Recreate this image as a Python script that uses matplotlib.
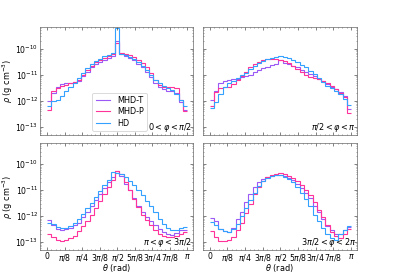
import numpy as np
import matplotlib.pyplot as plt

# log10(rho) per theta bin, 33 bins over [0, pi]
labels = ["MHD-T", "MHD-P", "HD"]
colors = ["#9b59f5", "#ff3399", "#33a1ff"]
panel_text = [r"$0 < \varphi < \pi/2$", r"$\pi/2 < \varphi < \pi$",
              r"$\pi < \varphi < 3\pi/2$", r"$3\pi/2 < \varphi < 2\pi$"]

tl_mhdt = [-12.0, -11.7, -11.45, -11.35, -11.32, -11.3, -11.28, -11.22, -11.05, -10.9, -10.72,
           -10.6, -10.5, -10.42, -10.36, -10.3, -9.7, -10.22, -10.28, -10.35, -10.45, -10.58,
           -10.72, -10.9, -11.1, -11.3, -11.45, -11.55, -11.6, -11.62, -11.7, -12.05, -12.35]
tl_mhdp = [-12.35, -11.62, -11.5, -11.42, -11.38, -11.32, -11.28, -11.2, -11.0, -10.82, -10.65,
           -10.52, -10.42, -10.35, -10.3, -10.22, -9.8, -10.18, -10.2, -10.25, -10.32, -10.42,
           -10.55, -10.7, -10.95, -11.2, -11.4, -11.45, -11.47, -11.48, -11.5, -11.95, -12.4]
tl_hd = [-12.2, -12.0, -11.95, -11.8, -11.62, -11.45, -11.3, -11.12, -10.92, -10.75, -10.6,
         -10.48, -10.38, -10.3, -10.25, -10.18, -9.2, -10.2, -10.25, -10.32, -10.4, -10.52,
         -10.65, -10.8, -11.0, -11.2, -11.32, -11.42, -11.5, -11.58, -11.75, -11.95, -12.2]

tr_mhdt = [-11.95, -11.6, -11.3, -11.22, -11.2, -11.18, -11.15, -11.1, -11.05, -11.0, -10.9,
           -10.82, -10.75, -10.7, -10.64, -10.58, -10.45, -10.55, -10.6, -10.66, -10.72, -10.8,
           -10.9, -10.98, -11.05, -11.15, -11.25, -11.35, -11.45, -11.55, -11.65, -11.8, -12.3]
tr_mhdp = [-12.2, -11.65, -11.5, -11.48, -11.45, -11.35, -11.2, -11.05, -10.9, -10.72, -10.6,
           -10.5, -10.44, -10.4, -10.38, -10.4, -10.45, -10.48, -10.55, -10.65, -10.78, -10.9,
           -11.0, -11.08, -11.12, -11.18, -11.25, -11.33, -11.43, -11.55, -11.7, -11.85, -12.45]
tr_hd = [-12.25, -12.05, -11.75, -11.45, -11.32, -11.22, -11.12, -11.02, -10.92, -10.78, -10.66,
         -10.56, -10.47, -10.4, -10.35, -10.32, -10.28, -10.32, -10.37, -10.44, -10.52, -10.62,
         -10.72, -10.85, -10.98, -11.12, -11.28, -11.42, -11.52, -11.62, -11.72, -11.92, -12.15]

bl_mhdt = [-12.15, -12.35, -12.48, -12.52, -12.5, -12.45, -12.35, -12.25, -12.05, -11.85, -11.62,
           -11.4, -11.15, -10.92, -10.7, -10.48, -10.28, -10.45, -10.75, -11.0, -11.3, -11.6,
           -11.85, -12.05, -12.2, -12.35, -12.48, -12.6, -12.7, -12.72, -12.65, -12.55, -12.55]
bl_mhdp = [-12.7, -12.82, -12.92, -12.95, -12.92, -12.85, -12.75, -12.58, -12.4, -12.2, -11.95,
           -11.68, -11.42, -11.15, -10.88, -10.6, -10.28, -10.4, -10.7, -11.0, -11.35, -11.65,
           -11.95, -12.15, -12.35, -12.55, -12.68, -12.75, -12.82, -12.82, -12.78, -12.7, -12.63]
bl_hd = [-12.25, -12.3, -12.42, -12.46, -12.44, -12.38, -12.25, -12.1, -11.92, -11.7, -11.48,
         -11.25, -11.02, -10.8, -10.6, -10.32, -10.33, -10.38, -10.5, -10.65, -10.82, -11.0,
         -11.2, -11.42, -11.62, -11.85, -12.1, -12.3, -12.45, -12.52, -12.54, -12.45, -12.42]

br_mhdt = [-12.08, -12.18, -12.5, -12.58, -12.63, -12.44, -12.12, -11.86, -11.47, -11.15, -10.9,
           -10.7, -10.58, -10.51, -10.46, -10.43, -10.42, -10.45, -10.52, -10.62, -10.75, -10.92,
           -11.1, -11.3, -11.6, -11.85, -12.1, -12.4, -12.55, -12.7, -12.68, -12.55, -12.42]
br_mhdp = [-12.56, -12.82, -12.95, -12.95, -12.92, -12.82, -12.55, -12.25, -11.9, -11.55, -11.15,
           -10.88, -10.65, -10.5, -10.42, -10.38, -10.36, -10.4, -10.45, -10.55, -10.65, -10.8,
           -10.98, -11.2, -11.45, -11.75, -12.05, -12.35, -12.6, -12.75, -12.85, -12.7, -12.5]
br_hd = [-12.24, -12.35, -12.5, -12.58, -12.6, -12.5, -12.3, -12.0, -11.7, -11.38, -11.1,
         -10.85, -10.65, -10.52, -10.45, -10.42, -10.42, -10.48, -10.58, -10.7, -10.88, -11.1,
         -11.35, -11.62, -11.95, -12.2, -12.45, -12.7, -12.85, -12.92, -12.7, -12.55, -12.4]

panels = [(tl_mhdt, tl_mhdp, tl_hd), (tr_mhdt, tr_mhdp, tr_hd),
          (bl_mhdt, bl_mhdp, bl_hd), (br_mhdt, br_mhdp, br_hd)]

tick_pos = np.arange(9) * np.pi / 8
tick_lab = ["0", r"$\pi/8$", r"$\pi/4$", r"$3\pi/8$", r"$\pi/2$",
            r"$5\pi/8$", r"$3\pi/4$", r"$7\pi/8$", r"$\pi$"]

plt.rcParams["font.size"] = 9.5

fig = plt.figure(figsize=(6.4, 4.484), dpi=62)
boxes = [[0.101, 0.514, 0.385, 0.388], [0.511, 0.514, 0.388, 0.388],
         [0.101, 0.101, 0.385, 0.385], [0.511, 0.101, 0.388, 0.385]]

for k, (box, series) in enumerate(zip(boxes, panels)):
    ax = fig.add_axes(box)
    for vals, lab, c in zip(series, labels, colors):
        vals = np.array(vals)
        edges = np.linspace(0, np.pi, len(vals) + 1)
        ax.stairs(10 ** vals, edges, color=c, lw=1.3, label=lab, baseline=None)
    ax.set_yscale("log")
    ax.set_ylim(5e-14, 6.5e-10)
    ax.set_xlim(-0.05 * np.pi, 1.04 * np.pi)
    ax.set_xticks(tick_pos)
    ax.set_xticks(np.arange(33) * np.pi / 32, minor=True)
    ax.tick_params(which="both", direction="in", top=True, right=True, colors="0.3",
                   labelcolor="black", pad=2, labelsize=9)
    ax.tick_params(which="major", length=3)
    ax.tick_params(which="minor", length=1.5)
    for s in ax.spines.values():
        s.set_color("0.4")
    ax.text(0.995, 0.01, panel_text[k], transform=ax.transAxes, ha="right", va="bottom")
    if k >= 2:
        ax.set_xticklabels(tick_lab)
        ax.set_xlabel(r"$\theta$ (rad)")
        ax.xaxis.set_label_coords(0.5, -0.115)
    else:
        ax.set_xticklabels([])
    if k % 2 == 0:
        ax.set_ylabel(r"$\rho$ (g cm$^{-3}$)")
        ax.yaxis.set_label_coords(-0.165, 0.5)
    else:
        ax.set_yticklabels([])
    if k == 0:
        ax.legend(loc="lower center", bbox_to_anchor=(0.52, 0.0), handlelength=1.8,
                  borderpad=0.4, labelspacing=0.3)

fig.savefig("out.png", dpi=62)
